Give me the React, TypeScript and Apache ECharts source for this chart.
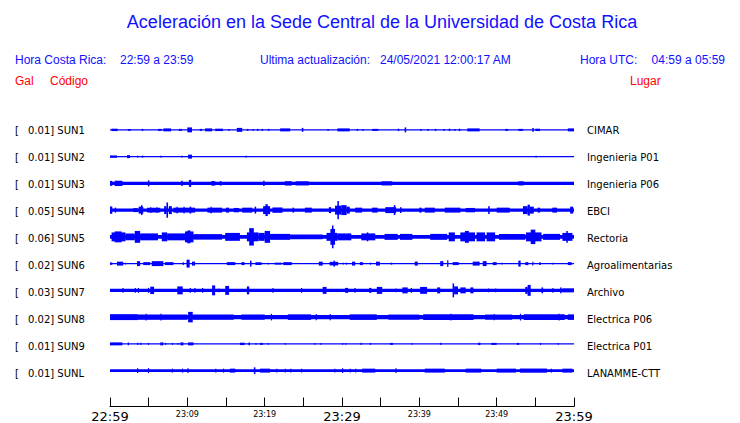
import React, { useEffect, useRef } from 'react';
import * as echarts from 'echarts';

const timeLabels = ['22:59', '23:09', '23:19', '23:29', '23:39', '23:49', '23:59'];
const majorLabels = ['22:59', '23:29', '23:59'];
const codes = ['SUN1', 'SUN2', 'SUN3', 'SUN4', 'SUN5', 'SUN6', 'SUN7', 'SUN8', 'SUN9', 'SUNL'];
const scales = ['0.01', '0.01', '0.01', '0.05', '0.06', '0.02', '0.03', '0.02', '0.01', '0.01'];
const places = ['CIMAR', 'Ingenieria P01', 'Ingenieria P06', 'EBCI', 'Rectoria', 'Agroalimentarias', 'Archivo', 'Electrica P06', 'Electrica P01', 'LANAMME-CTT'];
// background noise half-amplitude of each trace
const baseAmp = [0.6, 0.6, 1.7, 1.6, 2, 0.6, 1.7, 2.2, 0.6, 1.5];

// bursts: [start minute, end minute, half amplitude]
const sun1 = [[0.2,1.0,1.2],[2.3,2.7,1],[4.1,4.3,1],[6.2,6.7,1],[6.9,7.9,1.5],[8.9,9.3,1],[10.0,10.6,2.5],[11.6,11.9,1],[12.3,13.2,1.5],[13.6,14.6,1.2],[15.3,15.5,1],[16.4,17.1,2],[17.7,17.9,1],[18.4,18.6,1],[19.0,19.2,1],[19.6,19.8,1],[20.4,20.6,1],[22.0,23.3,1.5],[24.8,25.0,2],[28.1,28.3,1],[29.4,31.0,1.5],[31.9,32.1,1],[32.6,32.8,1],[33.9,34.7,1],[37.2,37.4,1.2],[38.1,38.3,2.5],[40.1,40.3,1],[41.0,41.2,1],[42.0,42.2,1],[43.1,43.3,1],[43.8,44.0,1.2],[44.5,44.7,1],[45.1,45.3,1.2],[46.2,47.8,1.5],[51.1,51.5,1],[52.8,53.4,1],[54.6,54.8,2],[55.0,55.6,1.2],[59.2,60,1.5]];
const sun2 = [[0,0.9,1.2],[2.2,2.6,1.5],[3.5,3.7,1],[4.1,4.3,1],[6.5,6.7,0.8],[9.2,9.4,0.8],[10.1,10.6,2],[17.5,17.7,1],[55.0,55.2,1]];
const sun3 = [[0,0.3,2.5],[0.6,1.6,2.7],[4.9,5.1,3],[9.2,9.4,2.7],[10.2,10.5,3.5],[13.1,13.6,2.3],[14.2,14.4,2.3],[19.8,20.0,2.7],[22.6,23.5,2.2],[24.0,25.7,2.1],[35.1,36.5,2.1],[52.8,53.5,2.1]];
const sun4 = [[0,0.3,3.7],[0.6,0.8,2.5],[3.0,3.6,2],[3.7,4.3,3.5],[4.0,4.2,5],[4.8,6.5,2.4],[5.2,5.3,3],[6.0,6.1,3],[7.0,7.3,4],[7.3,7.5,7.7],[7.6,8.0,4],[8.2,11.0,2.5],[8.6,8.7,3.5],[9.5,9.6,3.5],[10.3,10.5,3.5],[12.6,14.5,2.5],[13.0,13.1,3.5],[15.0,15.4,2.5],[16.0,16.7,2.2],[17.1,18.4,2.5],[18.7,18.9,3.5],[19.8,20.7,4],[20.1,20.4,6],[21.0,22.3,2.7],[23.6,23.8,2.5],[25.2,26.1,2.5],[28.3,28.6,3],[29.1,29.9,4.5],[29.4,29.6,9.3],[29.9,30.6,5],[30.6,31.0,3.5],[31.7,32.6,2.5],[33.9,34.6,2.5],[35.6,37.0,3],[36.7,36.9,5],[37.5,37.7,3],[40.0,40.3,2.5],[40.7,42.0,2.5],[43.3,45.3,2.5],[46.0,47.2,2.2],[48.9,49.1,4],[50.0,51.7,2.5],[53.4,54.0,4],[54.0,54.3,5.5],[54.3,54.8,3.5],[55.3,55.6,2.5],[57.2,57.8,2.5],[59.5,59.9,3.5]];
const sun5 = [[0.2,2.0,4.5],[0.6,1.5,5.5],[2.0,3.2,3.5],[3.2,3.9,6],[3.9,6.2,3.5],[6.7,7.4,4.5],[7.4,9.7,3.5],[9.7,10.8,5.5],[10.0,10.4,6.5],[10.8,14.5,2.8],[14.9,16.8,4],[17.7,19.2,4.5],[18.0,18.6,8.8],[19.2,20.0,4],[20.0,20.7,6],[20.7,23.3,3],[23.3,27.5,2.5],[28.0,29.4,4],[28.5,29.1,8],[28.7,28.9,11.5],[29.4,30.4,3.5],[30.4,31.2,3.5],[32.5,34.3,3.5],[33.2,33.4,4.5],[35.5,37.2,3],[37.5,39.1,3],[41.4,43.6,3],[43.8,44.6,4.5],[45.3,47.2,4.5],[45.9,46.4,6],[47.4,48.5,4.5],[48.7,49.8,4.5],[50.3,53.7,3],[53.8,55.8,4.5],[54.4,55.0,7.3],[56.0,58.2,3],[58.5,59.8,4],[59.0,59.2,6]];
const sun6 = [[0,0.3,1.2],[0.9,1.7,2],[1.9,2.0,1],[3.5,3.9,2.5],[4.3,5.2,1.5],[5.4,6.9,2.5],[7.1,8.2,1.5],[9.4,9.5,1.5],[9.9,10.3,4],[10.6,11.0,2],[15.1,16.2,1.5],[17.0,17.4,1.5],[18.1,18.3,3],[18.8,19.6,1.5],[20.4,20.5,1],[21.3,22.2,1],[22.4,23.5,1.5],[27.0,27.5,2],[28.4,29.5,1.8],[28.9,29.1,3],[30.1,30.2,1],[30.5,30.6,1],[31.3,31.7,2],[32.3,32.7,1.5],[33.6,33.7,1],[34.4,34.9,2],[36.3,36.5,1],[39.4,39.8,2],[42.7,43.1,2.5],[43.6,43.7,3.5],[44.3,45.1,1.5],[46.9,47.8,2],[48.2,48.7,2.5],[49.5,50.0,1.5],[50.6,50.7,1],[52.8,53.1,3],[53.7,54.1,1.5],[54.6,54.7,2],[55.5,55.7,1.5],[57.2,57.3,1],[59.2,59.7,1.5]];
const sun7 = [[1.6,1.7,2.5],[3.2,3.3,2.5],[3.6,3.7,2.5],[4.9,5.0,2.5],[5.2,5.7,3.7],[8.7,9.4,4],[10.3,10.4,2.5],[10.9,11.0,2.5],[11.9,12.0,2.5],[13.2,13.6,5],[14.0,14.1,2],[14.9,15.4,4.5],[17.7,18.0,4],[21.0,21.1,2.5],[24.7,24.8,2.5],[27.5,28.0,3.5],[30.4,30.8,2.5],[31.6,31.7,2.5],[33.5,33.8,2.5],[34.5,35.2,3.5],[36.9,37.0,2],[37.8,38.5,3],[38.9,39.0,2.5],[40.1,41.0,3.5],[42.3,42.7,3],[44.3,44.5,7],[44.5,45.0,4],[45.3,46.0,3],[46.6,47.0,3],[48.9,49.0,2],[49.8,49.9,2],[53.7,54.0,3.5],[54.0,54.4,5.5],[55.8,56.0,3],[57.2,57.3,2.5],[58.2,58.4,3],[58.5,60,2]];
const sun8 = [[0,3.6,3],[3.6,10.0,2.6],[4.6,4.7,3.3],[6.5,6.6,3.3],[10.1,10.7,5.3],[10.7,16.0,2.6],[17.0,20.0,2.7],[20.8,20.9,3.3],[23.0,26.0,2.8],[26.6,26.7,3.2],[28.4,28.5,3.2],[31.0,34.5,2.8],[36.0,40.0,2.6],[40.5,47.0,2.9],[44.0,44.1,3.5],[48.5,52.0,2.6],[49.6,49.7,3.2],[53.0,53.1,3.4],[53.5,58.8,2.9],[58.0,58.1,3.3],[59.2,60,2.8]];
const sun9 = [[0,1.6,1.5],[2.3,2.4,1.5],[3.5,3.6,1.2],[3.9,4.0,1.2],[4.9,5.0,1],[6.5,6.9,1.5],[7.1,7.2,1],[8.0,8.1,1],[8.7,8.8,1],[9.1,9.5,1.5],[10.1,10.8,1.5],[16.8,17.4,1.2],[17.9,18.1,1.5],[18.8,18.9,1],[19.4,19.8,1],[20.4,20.5,1],[22.6,22.7,1],[26.4,26.5,1],[27.2,27.3,1],[30.0,30.1,1],[30.4,30.5,1],[32.4,32.5,1.2],[33.6,33.7,1],[36.2,36.6,1],[39.0,39.1,1],[42.7,42.8,1.2],[47.6,47.9,1.2],[49.3,50.0,1],[52.6,52.9,1],[55.6,55.7,1],[57.9,58.0,1]];
const sunL = [[3.5,3.6,2.5],[4.9,5.0,2.5],[8.0,8.1,2],[9.3,9.4,2],[10.0,10.1,2.5],[13.6,13.7,2],[14.6,14.7,2],[15.5,16.2,2],[18.6,18.8,3.3],[19.4,20.7,2],[21.5,21.6,2],[22.6,22.7,2],[23.3,23.4,2],[24.7,24.8,2],[29.0,29.1,2],[30.0,30.1,2.5],[31.0,31.1,2],[31.7,31.8,2],[32.6,34.3,2],[36.9,37.0,2.5],[40.7,43.3,2],[46.0,48.0,2],[50.0,52.5,2],[53.0,56.5,2.1],[57.0,57.1,2],[58.5,59.8,2]];

const traces = [sun1, sun2, sun3, sun4, sun5, sun6, sun7, sun8, sun9, sunL];

const ROW = 27;
const TRACE_BLUE = '#0000ff';
const TEXT_BLUE = '#1010ff';
const RED = '#ff0000';

export default function App() {
  const ref = useRef<HTMLDivElement>(null);
  useEffect(() => {
    if (!ref.current) return;
    const chart = echarts.init(ref.current, undefined, { renderer: 'svg' });

    const series = traces.map((ev, i) => ({
      type: 'custom',
      name: codes[i],
      coordinateSystem: 'cartesian2d',
      data: [[0, 60, baseAmp[i]], ...ev],
      renderItem: (params: any, api: any) => {
        const t0 = api.value(0);
        const t1 = api.value(1);
        const a = api.value(2);
        const c = i * ROW;
        const p0 = api.coord([t0, c - a]);
        const p1 = api.coord([t1, c + a]);
        const x = Math.min(p0[0], p1[0]);
        const w = Math.max(Math.abs(p1[0] - p0[0]), 1.2);
        const y = Math.min(p0[1], p1[1]);
        const h = Math.max(Math.abs(p1[1] - p0[1]), 1);
        return { type: 'rect', shape: { x, y, width: w, height: h }, style: { fill: TRACE_BLUE } };
      },
      silent: true,
    }));

    const graphics: any[] = [
      { type: 'text', x: 382, y: 22, style: { text: 'Aceleración en la Sede Central de la Universidad de Costa Rica', fill: TEXT_BLUE, font: '18px "Liberation Sans", Arial, sans-serif', textAlign: 'center', textVerticalAlign: 'middle' } },
      { type: 'text', x: 15, y: 60, style: { text: 'Hora Costa Rica:', fill: TEXT_BLUE, font: '12px "Liberation Sans", Arial, sans-serif', textVerticalAlign: 'middle' } },
      { type: 'text', x: 120, y: 60, style: { text: '22:59 a 23:59', fill: TEXT_BLUE, font: '12px "Liberation Sans", Arial, sans-serif', textVerticalAlign: 'middle' } },
      { type: 'text', x: 260, y: 60, style: { text: 'Ultima actualización:', fill: TEXT_BLUE, font: '12px "Liberation Sans", Arial, sans-serif', textVerticalAlign: 'middle' } },
      { type: 'text', x: 380, y: 60, style: { text: '24/05/2021 12:00:17 AM', fill: TEXT_BLUE, font: '12px "Liberation Sans", Arial, sans-serif', textVerticalAlign: 'middle' } },
      { type: 'text', x: 580, y: 60, style: { text: 'Hora UTC:', fill: TEXT_BLUE, font: '12px "Liberation Sans", Arial, sans-serif', textVerticalAlign: 'middle' } },
      { type: 'text', x: 725, y: 60, style: { text: '04:59 a 05:59', fill: TEXT_BLUE, font: '12px "Liberation Sans", Arial, sans-serif', textAlign: 'right', textVerticalAlign: 'middle' } },
      { type: 'text', x: 15, y: 81, style: { text: 'Gal', fill: RED, font: '12px "Liberation Sans", Arial, sans-serif', textVerticalAlign: 'middle' } },
      { type: 'text', x: 50, y: 81, style: { text: 'Código', fill: RED, font: '12px "Liberation Sans", Arial, sans-serif', textVerticalAlign: 'middle' } },
      { type: 'text', x: 630, y: 81, style: { text: 'Lugar', fill: RED, font: '12px "Liberation Sans", Arial, sans-serif', textVerticalAlign: 'middle' } },
    ];
    codes.forEach((code, i) => {
      const y = 130 + i * ROW;
      const font = '10px "DejaVu Sans", sans-serif';
      graphics.push({ type: 'text', x: 15, y, style: { text: '[', fill: '#000', font, textVerticalAlign: 'middle' } });
      graphics.push({ type: 'text', x: 28, y, style: { text: `${scales[i]}] ${code}`, fill: '#000', font, textVerticalAlign: 'middle' } });
      graphics.push({ type: 'text', x: 587, y, style: { text: places[i], fill: '#000', font, textVerticalAlign: 'middle' } });
    });

    chart.setOption({
      animation: false,
      grid: { left: 110, width: 464, top: 116.5, height: 270 },
      xAxis: {
        type: 'value', min: 0, max: 60, interval: 5, position: 'bottom', offset: 22.5,
        axisLine: { show: true, onZero: false, lineStyle: { color: '#000', width: 1 } },
        axisTick: { show: true, inside: true, length: 9, lineStyle: { color: '#000' } },
        splitLine: { show: false },
        axisLabel: {
          show: true, margin: 3, showMinLabel: true, showMaxLabel: true,
          formatter: (v: number) => {
            if (v % 10 !== 0) return '';
            const lab = timeLabels[v / 10];
            return majorLabels.includes(lab) ? `{big|${lab}}` : `{small|${lab}}`;
          },
          rich: {
            big: { fontSize: 13, fontFamily: '"DejaVu Sans", sans-serif', color: '#000', lineHeight: 14 },
            small: { fontSize: 8, fontFamily: '"DejaVu Sans", sans-serif', color: '#000', lineHeight: 9, padding: [1, 0, 0, 0] },
          },
        },
      },
      yAxis: { type: 'value', min: -13.5, max: 256.5, inverse: true, show: false },
      series,
      graphic: graphics,
    });
    return () => chart.dispose();
  }, []);
  return <div ref={ref} style={{ position: 'fixed', left: 0, top: 0, width: 740, height: 423, background: '#fff' }} />;
}
